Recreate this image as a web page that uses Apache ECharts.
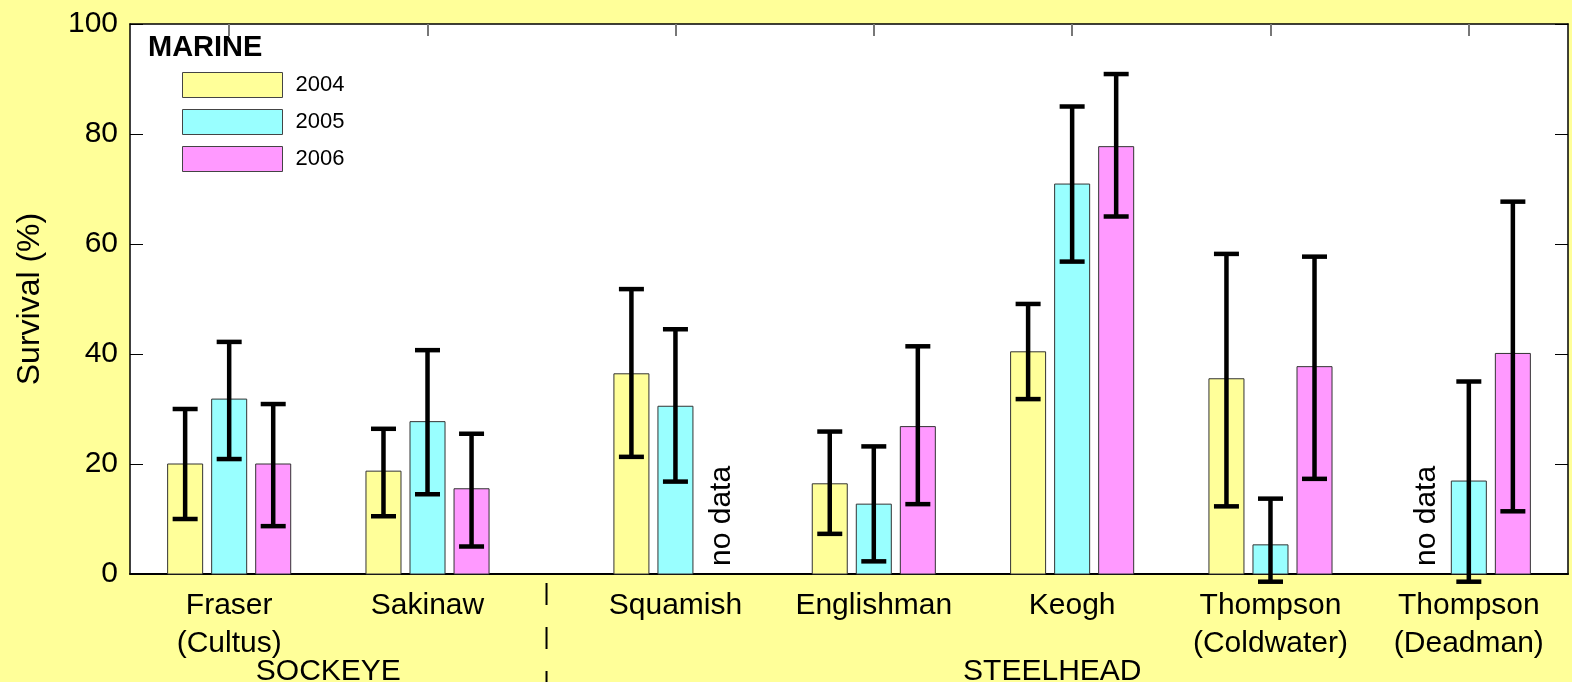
<!DOCTYPE html>
<html><head><meta charset="utf-8">
<script src="https://cdn.jsdelivr.net/npm/echarts@6/dist/echarts.min.js"></script>
<style>html,body{margin:0;padding:0;background:#FFFF99;}#c{width:1572px;height:682px;}</style>
</head><body><div id="c"></div>
<script>
// ---- data ----
const groupNames = ['Fraser\n(Cultus)', 'Sakinaw', 'Squamish', 'Englishman', 'Keogh', 'Thompson\n(Coldwater)', 'Thompson\n(Deadman)'];
const groupX = [0.5, 1.5, 2.75, 3.75, 4.75, 5.75, 6.75];
const speciesNames = ['SOCKEYE', 'STEELHEAD'];
const speciesX = [1.0, 4.65];
const separatorX = 2.1;
const years = ['2004', '2005', '2006'];
const v2004  = [20.0, 18.7, 36.4, 16.4, 40.4, 35.5, null];
const lo2004 = [10.0, 10.5, 21.3,  7.3, 31.8, 12.3, null];
const hi2004 = [30.0, 26.4, 51.8, 25.9, 49.1, 58.2, null];
const v2005  = [31.8, 27.7, 30.5, 12.7, 70.9,  5.3, 16.9];
const lo2005 = [20.9, 14.5, 16.8,  2.3, 56.8, -1.4, -1.4];
const hi2005 = [42.2, 40.7, 44.5, 23.2, 85.0, 13.7, 35.0];
const v2006  = [20.0, 15.5, null, 26.8, 77.7, 37.7, 40.1];
const lo2006 = [ 8.7,  5.0, null, 12.7, 65.0, 17.3, 11.4];
const hi2006 = [30.9, 25.5, null, 41.4, 90.9, 57.7, 67.7];
const yTicks = [0, 20, 40, 60, 80, 100];
const legendTitle = 'MARINE';
const noDataText = 'no data';

// ---- styling ----
const colors = ['#FFFF99', '#99FFFF', '#FF99FF'];
const vals = [v2004, v2005, v2006], los = [lo2004, lo2005, lo2006], his = [hi2004, hi2005, hi2006];
const XMAX = 7.25, OFF = 0.222, BW = 0.1765;

function nearestName(v, xs, names) {
  let best = -1, d = 1e9;
  xs.forEach((x, i) => { if (Math.abs(x - v) < d) { d = Math.abs(x - v); best = i; } });
  return d < 1e-6 ? names[best] : '';
}

function barRender(k) {
  return function (params, api) {
    const x = api.value(0), v = api.value(1), lo = api.value(2), hi = api.value(3);
    const cx = api.coord([x + (k - 1) * OFF, 0])[0];
    const y0 = api.coord([x, 0])[1];
    const yv = api.coord([x, v])[1];
    const ylo = api.coord([x, lo])[1];
    const yhi = api.coord([x, hi])[1];
    const bw = api.size([BW, 0])[0];
    const cap = 12.5;
    const es = { stroke: '#000', lineWidth: 4.5 };
    return {
      type: 'group',
      children: [
        { type: 'rect', shape: { x: cx - bw / 2, y: yv, width: bw, height: y0 - yv }, style: { fill: colors[k], stroke: '#333', lineWidth: 1 } },
        { type: 'line', shape: { x1: cx, y1: ylo, x2: cx, y2: yhi }, style: es },
        { type: 'line', shape: { x1: cx - cap, y1: yhi, x2: cx + cap, y2: yhi }, style: es },
        { type: 'line', shape: { x1: cx - cap, y1: ylo, x2: cx + cap, y2: ylo }, style: es }
      ]
    };
  };
}

const series = years.map((name, k) => ({
  name, type: 'custom', xAxisIndex: 0, yAxisIndex: 0,
  itemStyle: { color: colors[k], borderColor: '#333', borderWidth: 1 },
  renderItem: barRender(k),
  data: groupX.map((x, i) => vals[k][i] == null ? null : [x, vals[k][i], los[k][i], his[k][i]]).filter(d => d),
  z: 3
}));

const noData = [];
years.forEach((y, k) => groupX.forEach((x, i) => { if (vals[k][i] == null) noData.push([x, k]); }));
series.push({
  type: 'custom', xAxisIndex: 0, yAxisIndex: 0, silent: true, z: 4,
  renderItem: function (params, api) {
    const x = api.value(0), k = api.value(1);
    const p = api.coord([x + (k - 1) * OFF, 0]);
    return { type: 'text', x: p[0] + 2, y: p[1] - 8, rotation: Math.PI / 2,
      style: { text: noDataText, fill: '#000', fontSize: 30, fontFamily: 'Liberation Sans, Arial, sans-serif', align: 'left', verticalAlign: 'middle' } };
  },
  data: noData
});
series.push({
  type: 'custom', xAxisIndex: 0, yAxisIndex: 0, silent: true, clip: false, z: 4,
  renderItem: function (params, api) {
    const p = api.coord([api.value(0), 0]);
    return { type: 'line', shape: { x1: p[0], y1: p[1] + 9, x2: p[0], y2: p[1] + 120 },
      style: { stroke: '#000', lineWidth: 2, lineDash: [22, 22] } };
  },
  data: [[separatorX]]
});

const font = 'Liberation Sans, Arial, sans-serif';
const chart = echarts.init(document.getElementById('c'), null, { renderer: 'canvas' });
chart.setOption({
  animation: false,
  backgroundColor: '#FFFF99',
  textStyle: { fontFamily: font, color: '#000' },
  title: { text: legendTitle, left: 148, top: 33, padding: 0, textStyle: { fontSize: 29, fontWeight: 'bold', color: '#000', fontFamily: font } },
  legend: {
    data: years, orient: 'vertical', left: 182, top: 72, padding: 0, itemWidth: 100, itemHeight: 25, itemGap: 11,
    icon: 'rect', textStyle: { fontSize: 22, color: '#000', padding: [0, 0, 0, 8] },
    itemStyle: { borderColor: '#444', borderWidth: 1 }, selectedMode: false
  },
  grid: { left: 130, right: 4, top: 24, bottom: 108, show: true, backgroundColor: '#fff', borderWidth: 0,
    containLabel: false, outerBoundsMode: 'none' },
  xAxis: [
    { type: 'value', min: 0, max: XMAX, position: 'bottom',
      axisLine: { show: true, onZero: false, lineStyle: { color: '#000', width: 2 } },
      axisTick: { show: false }, splitLine: { show: false },
      axisLabel: { customValues: groupX, formatter: v => nearestName(v, groupX, groupNames), fontSize: 30, lineHeight: 38, color: '#000', margin: 13 } },
    { type: 'value', min: 0, max: XMAX, position: 'top',
      axisLine: { show: true, onZero: false, lineStyle: { color: '#000', width: 1.5 } },
      axisTick: { show: true, inside: true, length: 12, customValues: groupX, lineStyle: { color: '#777', width: 2 } },
      axisLabel: { show: false }, splitLine: { show: false } },
    { type: 'value', min: 0, max: XMAX, position: 'bottom', offset: 0,
      axisLine: { show: false, onZero: false }, axisTick: { show: false }, splitLine: { show: false },
      axisLabel: { customValues: speciesX, formatter: v => nearestName(v, speciesX, speciesNames), fontSize: 30, lineHeight: 38, color: '#000', margin: 79 } }
  ],
  yAxis: [
    { type: 'value', min: 0, max: 100, interval: 20, position: 'left',
      axisLine: { show: true, onZero: false, lineStyle: { color: '#000', width: 1.5 } },
      axisTick: { show: true, inside: true, length: 13, customValues: yTicks, lineStyle: { color: '#000' } },
      axisLabel: { customValues: yTicks, fontSize: 30, color: '#000', margin: 12 }, splitLine: { show: false },
      name: 'Survival (%)', nameLocation: 'middle', nameGap: 84, nameTextStyle: { fontSize: 32, color: '#000' } },
    { type: 'value', min: 0, max: 100, interval: 20, position: 'right',
      axisLine: { show: true, onZero: false, lineStyle: { color: '#000', width: 1.5 } },
      axisTick: { show: true, inside: true, length: 13, lineStyle: { color: '#000' } },
      axisLabel: { show: false }, splitLine: { show: false } }
  ],
  series
});
</script></body></html>
